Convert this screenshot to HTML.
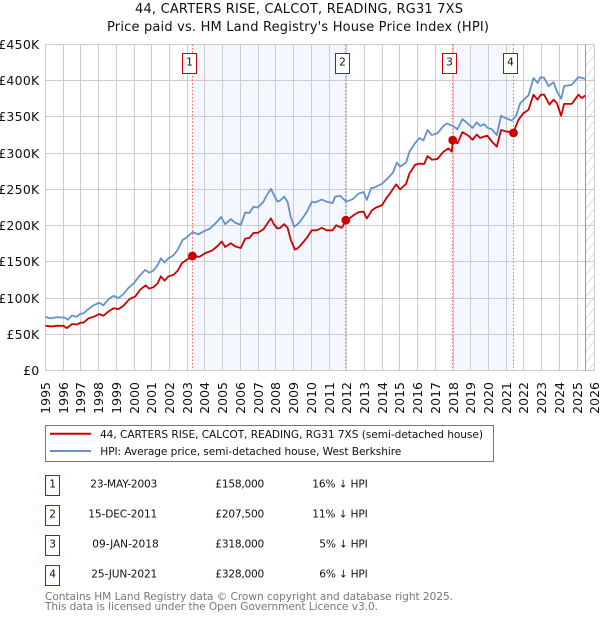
<!DOCTYPE html>
<html>
<head>
<meta charset="utf-8">
<title>44, Carters Rise price paid vs HPI</title>
<style>
html,body{margin:0;padding:0;background:#fff;width:600px;height:620px;overflow:hidden}
svg{display:block}
text{font-family:"DejaVu Sans","Liberation Sans",sans-serif;fill:#111}
</style>
</head>
<body>
<svg id="chart" xmlns="http://www.w3.org/2000/svg" width="600" height="620" viewBox="0 0 600 620">
  <defs>
    <pattern id="hatch" x="585.5" y="0" width="9" height="11" patternUnits="userSpaceOnUse">
      <path d="M0 11 L9 0" stroke="#dcdcdc" stroke-width="1" fill="none"/>
    </pattern>
  </defs>
  <text x="135" y="13" font-size="13" textLength="328" lengthAdjust="spacing">44, CARTERS RISE, CALCOT, READING, RG31 7XS</text>
  <text x="107" y="31" font-size="13" textLength="382" lengthAdjust="spacing">Price paid vs. HM Land Registry's House Price Index (HPI)</text>
  <g id="plot"></g>

  <g>
    <rect x="45.5" y="425.5" width="448" height="36" fill="#fff" stroke="#777" stroke-width="1"/>
    <line x1="50" x2="91" y1="433.7" y2="433.7" stroke="#cc0000" stroke-width="2"/>
    <text x="100" y="438" font-size="10.6" textLength="383" lengthAdjust="spacing">44, CARTERS RISE, CALCOT, READING, RG31 7XS (semi-detached house)</text>
    <line x1="50" x2="91" y1="451" y2="451" stroke="#6490d0" stroke-width="2"/>
    <text x="100.3" y="455" font-size="10.6" textLength="301" lengthAdjust="spacing">HPI: Average price, semi-detached house, West Berkshire</text>
  </g>

  <g font-size="10.6">
    <g>
      <rect x="45.5" y="475.5" width="14" height="20" fill="#fff" stroke="#c00"/>
      <text x="49.2" y="487.5">1</text>
      <text x="90.3" y="487.5" textLength="67" lengthAdjust="spacing">23-MAY-2003</text>
      <text x="215.3" y="487.5" textLength="49" lengthAdjust="spacing">£158,000</text>
      <text x="312.3" y="487.5" textLength="55.4" lengthAdjust="spacing">16% ↓ HPI</text>
    </g>
    <g>
      <rect x="45.5" y="505.5" width="14" height="20" fill="#fff" stroke="#c00"/>
      <text x="49.2" y="517.5">2</text>
      <text x="88.3" y="517.5" textLength="69" lengthAdjust="spacing">15-DEC-2011</text>
      <text x="215.3" y="517.5" textLength="49" lengthAdjust="spacing">£207,500</text>
      <text x="312.3" y="517.5" textLength="55.4" lengthAdjust="spacing">11% ↓ HPI</text>
    </g>
    <g>
      <rect x="45.5" y="535.5" width="14" height="20" fill="#fff" stroke="#c00"/>
      <text x="49.2" y="547.5">3</text>
      <text x="92.3" y="547.5" textLength="66.4" lengthAdjust="spacing">09-JAN-2018</text>
      <text x="215.3" y="547.5" textLength="49" lengthAdjust="spacing">£318,000</text>
      <text x="319.3" y="547.5" textLength="48.4" lengthAdjust="spacing">5% ↓ HPI</text>
    </g>
    <g>
      <rect x="45.5" y="565.5" width="14" height="20" fill="#fff" stroke="#c00"/>
      <text x="49.2" y="577.5">4</text>
      <text x="91.3" y="577.5" textLength="66" lengthAdjust="spacing">25-JUN-2021</text>
      <text x="215.3" y="577.5" textLength="49" lengthAdjust="spacing">£328,000</text>
      <text x="319.3" y="577.5" textLength="48.4" lengthAdjust="spacing">6% ↓ HPI</text>
    </g>
  </g>

  <text x="45" y="600" font-size="10.6" textLength="408" lengthAdjust="spacing" style="fill:#777">Contains HM Land Registry data © Crown copyright and database right 2025.</text>
  <text x="45" y="610" font-size="10.6" textLength="333" lengthAdjust="spacing" style="fill:#777">This data is licensed under the Open Government Licence v3.0.</text>
</svg>
<script>
const yTickValues = [0, 50, 100, 150, 200, 250, 300, 350, 400, 450];
const yTickLabels = ['£0', '£50K', '£100K', '£150K', '£200K', '£250K', '£300K', '£350K', '£400K', '£450K'];
const xTickYears = [1995, 1996, 1997, 1998, 1999, 2000, 2001, 2002, 2003, 2004, 2005, 2006, 2007, 2008, 2009, 2010, 2011, 2012, 2013, 2014, 2015, 2016, 2017, 2018, 2019, 2020, 2021, 2022, 2023, 2024, 2025, 2026];

const hpiDates = [1995.00,1995.26,1995.64,1996.11,1996.26,1996.49,1996.73,1996.96,1997.14,1997.43,1997.71,1998.03,1998.27,1998.56,1998.84,1999.12,1999.40,1999.68,1999.97,2000.25,2000.62,2000.85,2001.09,2001.32,2001.51,2001.70,2001.94,2002.22,2002.47,2002.73,2002.98,2003.30,2003.63,2003.92,2004.29,2004.67,2004.91,2005.14,2005.46,2005.70,2006.02,2006.27,2006.51,2006.74,2006.98,2007.30,2007.49,2007.72,2007.90,2008.09,2008.24,2008.47,2008.66,2008.84,2009.03,2009.18,2009.37,2009.75,2010.03,2010.22,2010.59,2010.88,2011.20,2011.35,2011.63,2011.97,2012.34,2012.66,2012.95,2013.13,2013.38,2013.60,2013.98,2014.26,2014.60,2014.83,2015.01,2015.35,2015.54,2015.86,2016.11,2016.33,2016.56,2016.80,2017.12,2017.46,2017.65,2017.99,2018.25,2018.53,2018.87,2019.10,2019.34,2019.53,2019.76,2019.94,2020.19,2020.47,2020.71,2020.99,2021.32,2021.56,2021.79,2022.26,2022.54,2022.77,2022.95,2023.14,2023.39,2023.67,2023.86,2024.10,2024.27,2024.70,2025.08,2025.46];
const hpiValues = [74,72,73.5,73,70,76,74,78,79,85,90,93.5,90,98.6,103,100,105.5,114,120,129,139,135,138,145,155,149,155,159,167,180,184,191,188,192,196,205,212,202,209,204,201,218,217.5,226,225,233,242,250.7,242,233,234.5,240,233,212,198.6,201,205.5,219,233,232,236,233,231,240,241,233,236.5,244,246.5,235.5,251.6,253,257.6,264,273,287,281.5,287,302,314,321,317.5,332,325,327.5,337.6,341,337.6,333,347,340,335,342.5,337.6,340,335,333,325,351.6,348,345,351.6,369,380,403.7,397,405,404,392.5,398,385.5,375,392.5,394.5,405,402.5];

const priceDates = [1995.00,1995.36,1995.64,1996.02,1996.20,1996.49,1996.81,1996.96,1997.14,1997.43,1997.80,1998.03,1998.27,1998.56,1998.84,1999.12,1999.40,1999.74,2000.06,2000.34,2000.66,2000.85,2001.09,2001.32,2001.51,2001.72,2001.94,2002.22,2002.47,2002.69,2002.98,2003.30,2003.69,2004.01,2004.39,2004.67,2004.95,2005.14,2005.46,2005.70,2006.02,2006.27,2006.51,2006.74,2006.98,2007.30,2007.72,2007.90,2008.09,2008.24,2008.47,2008.66,2008.84,2009.07,2009.18,2009.37,2009.75,2010.03,2010.31,2010.59,2010.88,2011.20,2011.40,2011.72,2011.97,2012.38,2012.66,2012.95,2013.13,2013.42,2013.66,2013.98,2014.26,2014.45,2014.79,2015.01,2015.35,2015.54,2015.86,2016.11,2016.37,2016.56,2016.80,2017.12,2017.46,2017.74,2017.93,2017.99,2018.25,2018.53,2018.87,2019.10,2019.34,2019.53,2019.76,2019.94,2020.19,2020.47,2020.71,2020.99,2021.41,2021.69,2021.94,2022.26,2022.54,2022.77,2022.95,2023.14,2023.44,2023.67,2023.86,2024.10,2024.27,2024.70,2025.08,2025.27,2025.46];
const priceValues = [61.7,60.8,61.7,61.7,58.5,64,63.6,66,66,72,75,78,75.6,81.6,86,84.8,89.4,98.6,102,111.5,117.5,113,115,120,130,124,130,132,138,148,153,157.6,157,162,165.4,171,178,170.5,175.6,171.4,169,182,183,190,190,195,210,201.4,196,196.8,202,197,180.6,167,167.7,172,183.4,193.5,193.5,197,193.5,193.5,200.5,197,206.5,214.3,218.4,219.4,209.7,221,225,228,238.7,244.7,257,250,257.6,272,284,285.5,285,296,291,292,302,306.6,302,318,313.5,329,324,318.5,325.6,321,323,324,316,309,332,330,328.5,346,354.4,360,380.7,373.8,380.7,380.7,367,373.8,369,351.6,368,368,380.7,376,379.6];

const saleLabels = ['1', '2', '3', '4'];
const saleDates = [2003.29, 2011.95, 2017.98, 2021.41];
const salePrices = [158, 207.5, 318, 328];
const dataEndYear = 2025.49;

const SVGNS = 'http://www.w3.org/2000/svg';
const plot = document.getElementById('plot');
const plotLeft = 45.5, plotRight = 594.8, plotTop = 44.5, plotBottom = 370.5;

function xScale(year) {
  return plotLeft + (year - 1995) * (plotRight - plotLeft) / 31;
}
function yScale(value) {
  return plotBottom - value * (plotBottom - plotTop) / 450;
}
function snap(p) {
  return Math.round(p - 0.5) + 0.5;
}
function make(tag, attrs) {
  const el = document.createElementNS(SVGNS, tag);
  for (const k in attrs) el.setAttribute(k, attrs[k]);
  plot.appendChild(el);
  return el;
}

// shaded bands between alternate sales
for (let i = 0; i + 1 < saleDates.length; i += 2) {
  const band = make('rect', {x: snap(xScale(saleDates[i])), y: plotTop, width: snap(xScale(saleDates[i + 1])) - snap(xScale(saleDates[i])), height: plotBottom - plotTop, fill: '#f4f7fe'});
  
  
}

// no-data hatch
const hatch = make('rect', {x: snap(xScale(dataEndYear)), y: plotTop, width: plotRight - snap(xScale(dataEndYear)), height: plotBottom - plotTop, fill: 'url(#hatch)'});



// gridlines and tick labels
yTickValues.forEach((v, i) => {
  const y = snap(yScale(v));
  const g = make('line', {x1: plotLeft, x2: snap(plotRight), y1: y, y2: y, stroke: '#ccc', 'stroke-width': 1});
  
  
  const t = make('text', {x: 39.5, y: y + 4.6, 'text-anchor': 'end', 'font-size': 12.5, 'letter-spacing': 0.25});
  t.textContent = yTickLabels[i];
  
  
});
xTickYears.forEach((yr) => {
  const x = snap(xScale(yr));
  const g = make('line', {x1: x, x2: x, y1: plotTop, y2: plotBottom, stroke: '#ccc', 'stroke-width': 1});
  
  
  const t = make('text', {x: 0, y: 0, 'text-anchor': 'end', 'font-size': 12.5, transform: 'translate(' + (x + 4.6) + ',382) rotate(-90)'});
  t.textContent = String(yr);
  
  
});

// end-of-data line
const endX = snap(xScale(dataEndYear));
const endLine = make('line', {x1: endX, x2: endX, y1: plotTop, y2: plotBottom, stroke: '#999', 'stroke-width': 1});



// sale vertical lines
saleDates.forEach((d) => {
  const x = snap(xScale(d));
  const l = make('line', {x1: x, x2: x, y1: plotTop, y2: plotBottom, stroke: '#f66', 'stroke-width': 1, 'stroke-dasharray': '1.5 2'});
  
  
});

function pathFor(dates, values) {
  return dates.map((d, i) => (i ? 'L' : 'M') + xScale(d).toFixed(2) + ' ' + yScale(values[i]).toFixed(2)).join(' ');
}
const hpiLine = make('path', {d: pathFor(hpiDates, hpiValues), fill: 'none', stroke: '#6490d0', 'stroke-width': 1.8, 'stroke-linejoin': 'round'});


const priceLine = make('path', {d: pathFor(priceDates, priceValues), fill: 'none', stroke: '#cc0000', 'stroke-width': 1.8, 'stroke-linejoin': 'round'});



saleDates.forEach((d, i) => {
  const c = make('circle', {cx: xScale(d), cy: yScale(salePrices[i]), r: 4.4, fill: '#cc0000'});
  
  
  const bx = Math.floor(xScale(d) - 10) + 0.5;
  const b = make('rect', {x: bx, y: 53.5, width: 14, height: 20, fill: '#fff', stroke: '#c00', 'stroke-width': 1});
  
  
  const t = make('text', {x: bx + 7, y: 65.5, 'text-anchor': 'middle', 'font-size': 10.6});
  t.textContent = saleLabels[i];
  
  
});
</script>
</body>
</html>
